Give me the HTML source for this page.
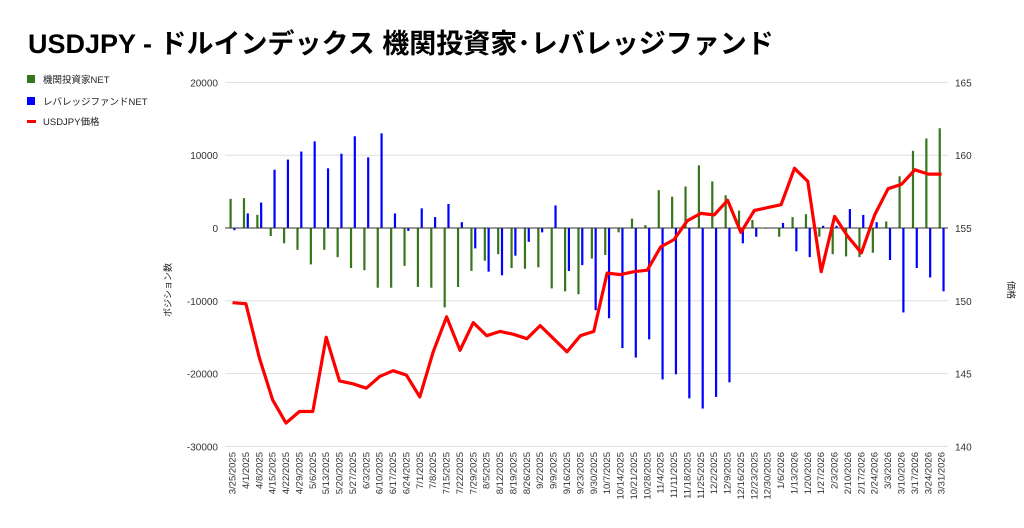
<!DOCTYPE html>
<html><head><meta charset="utf-8"><style>
body{margin:0;background:#fff;}
svg{display:block;font-family:"Liberation Sans","Noto Sans CJK JP",sans-serif;}
</style></head><body>
<svg id="c" width="1024" height="528" xmlns="http://www.w3.org/2000/svg">
<rect width="1024" height="528" fill="#fff"/>
<text x="28" y="53" font-size="27" font-weight="bold" fill="#000">USDJPY - ドルインデックス 機関投資家･レバレッジファンド</text>
<rect x="27" y="75" width="8" height="8" fill="#38761d"/>
<text x="43" y="83" font-size="9.5" fill="#222">機関投資家NET</text>
<rect x="27" y="97" width="8" height="8" fill="#0000ff"/>
<text x="43" y="105" font-size="9.5" fill="#222">レバレッジファンドNET</text>
<rect x="27" y="120" width="9" height="3" fill="#ff0000"/>
<text x="43" y="125" font-size="9.5" fill="#222">USDJPY価格</text>
<g id="grid"></g>
<text transform="translate(171,290) rotate(-90)" font-size="9" text-anchor="middle" fill="#222">ポジション数</text>
<text transform="translate(1008,290) rotate(90)" font-size="9" text-anchor="middle" fill="#222">価格</text>
</svg>
<script>
var s=document.getElementById('c'),NS='http://www.w3.org/2000/svg';
function el(t,a,txt){var e=document.createElementNS(NS,t);for(var k in a)e.setAttribute(k,a[k]);if(txt!=null)e.textContent=txt;s.appendChild(e);return e;}
var y0=228,k=7.28;
for(var i=0;i<6;i++){var v=20000-i*10000,y=y0-v/10000*72.8;
el('line',{x1:225,x2:948,y1:y,y2:y,stroke:'#ddd','stroke-width':1});
el('text',{x:218,y:y+4,'font-size':10,'text-anchor':'end',fill:'#333'},String(v));
el('text',{x:955,y:y+4,'font-size':10,fill:'#333'},String(165-i*5));}
var g=[4,4.1,1.8,-1.1,-2.1,-3,-5,-3,-4,-5.5,-5.8,-8.2,-8.2,-5.2,-8.1,-8.2,-10.9,-8.1,-5.9,-4.5,-3.6,-5.5,-5.6,-5.4,-8.3,-8.7,-9.1,-4.2,-3.7,-0.6,1.3,0.4,5.2,4.3,5.7,8.6,6.4,4.5,2.4,1.1,-0.1,-1.2,1.5,1.9,-1.2,-3.6,-3.9,-4.0,-3.4,0.9,7.1,10.6,12.3,13.7];
var b=[-0.3,2,3.5,8,9.4,10.5,11.9,8.2,10.2,12.6,9.7,13,2,-0.4,2.7,1.5,3.3,0.8,-2.8,-6,-6.5,-3.8,-1.9,-0.6,3.1,-5.9,-5.1,-11.3,-12.4,-16.5,-17.8,-15.3,-20.8,-20.1,-23.4,-24.8,-23.2,-21.2,-2.1,-1.2,0,0.7,-3.2,-4,0.3,0.3,2.6,1.8,0.8,-4.4,-11.6,-5.5,-6.8,-8.7];
var p=[149.87,149.8,146.1,143.2,141.6,142.4,142.4,147.5,144.5,144.3,144.0,144.8,145.2,144.9,143.4,146.5,148.9,146.6,148.5,147.6,147.9,147.7,147.4,148.3,147.4,146.5,147.6,147.9,151.9,151.8,152.0,152.1,153.7,154.2,155.5,156.0,155.9,156.9,154.7,156.2,156.4,156.6,159.1,158.2,152.0,155.8,154.4,153.3,155.9,157.7,158.0,159.0,158.7,158.7];
var dates=[],d=new Date(2025,2,25);
for(var i=0;i<54;i++){dates.push((d.getMonth()+1)+'/'+d.getDate()+'/'+d.getFullYear());d.setDate(d.getDate()+7);}
function bar(x,v,c){var h=v*k;el('rect',{x:x-1,y:h>0?y0-h:y0,width:2.2,height:Math.max(Math.abs(h),0.5),fill:c});}
var pts=[];
for(var i=0;i<54;i++){var x=230.5+13.38*i;bar(x,g[i],'#38761d');bar(x+3.8,b[i],'#0000ff');
pts.push((232.5+13.38*i).toFixed(1)+','+(y0-(p[i]-155)*14.56).toFixed(1));
el('text',{transform:'translate('+(235.5+13.38*i)+',452) rotate(-90)','font-size':9.5,'text-anchor':'end',fill:'#333'},dates[i]);}
el('line',{x1:225,x2:948,y1:y0,y2:y0,stroke:'#333','stroke-width':1});
el('polyline',{points:pts.join(' '),fill:'none',stroke:'#ff0000','stroke-width':3.2,'stroke-linejoin':'round'});
</script>
</body></html>
